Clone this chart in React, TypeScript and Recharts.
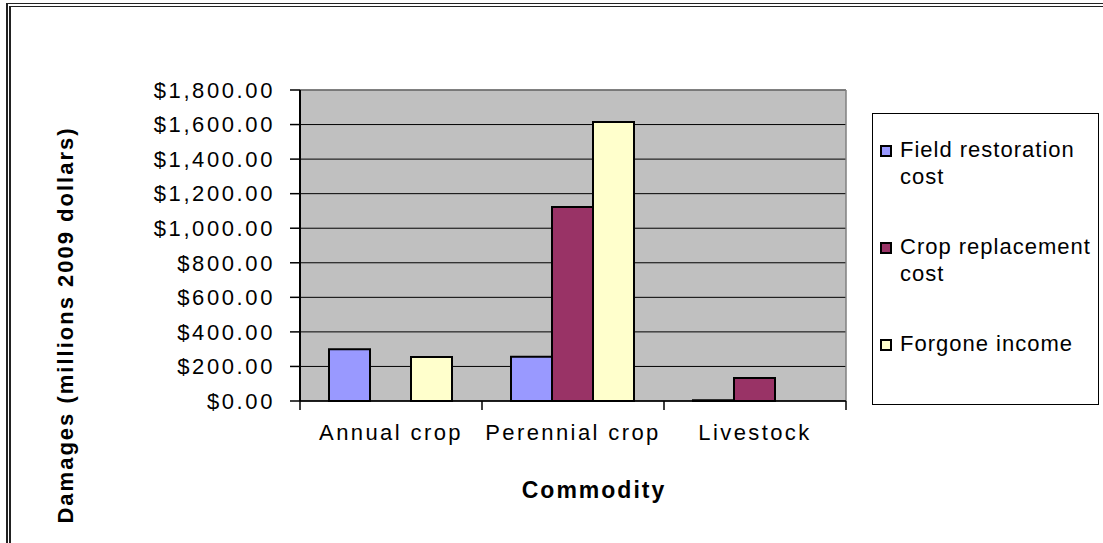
import { BarChart, Bar, XAxis, YAxis, CartesianGrid, Legend, Label } from 'recharts';

const categories = ['Annual crop', 'Perennial crop', 'Livestock'];
const seriesNames = ['Field restoration cost', 'Crop replacement cost', 'Forgone income'];
const fieldRestoration = [300, 256, 5];
const cropReplacement = [null, 1123, 133];
const forgoneIncome = [254, 1615, null];
const yTicks = [0, 200, 400, 600, 800, 1000, 1200, 1400, 1600, 1800];

const W = 1103;
const H = 543;
const margin = { top: 90, right: 257, bottom: 0, left: 0 };
const Y_AXIS_W = 300;
const X_AXIS_H = 142;
const FONT = '"Liberation Sans", Arial, sans-serif';

const plotW = W - margin.left - margin.right - Y_AXIS_W;
const plotBottom = H - margin.bottom - X_AXIS_H;
const band = plotW / categories.length;

const data = categories.map((c, i) => ({
    category: c,
    field: fieldRestoration[i],
    crop: cropReplacement[i],
    income: forgoneIncome[i],
}));

const money = (v: number) =>
    '$' + v.toLocaleString('en-US', { minimumFractionDigits: 2, maximumFractionDigits: 2 });

// excel style: ticks sit between categories
const CategoryTick = ({ x, payload, index }: any) => {
    const half = band / 2;
    return (
        <g>
            <line x1={x - half} x2={x - half} y1={plotBottom} y2={plotBottom + 9} stroke="#000" strokeWidth={1.5} />
            {index === categories.length - 1 && (
                <line x1={x + half} x2={x + half} y1={plotBottom} y2={plotBottom + 9} stroke="#000" strokeWidth={1.5} />
            )}
            <text
                x={x}
                y={plotBottom + 39}
                textAnchor="middle"
                fill="#000"
                style={{ fontFamily: FONT, fontSize: 22, letterSpacing: 2.4 }}
            >
                {payload.value}
            </text>
        </g>
    );
};

const LegendBox = ({ payload }: any) => {
    const items = [...(payload || [])].sort(
        (a: any, b: any) => seriesNames.indexOf(a.value) - seriesNames.indexOf(b.value)
    );
    return (
        <div
            style={{
                border: '1px solid #000',
                background: '#fff',
                boxSizing: 'border-box',
                width: 227,
                height: 292,
                padding: '22px 0 0 7px',
                fontFamily: FONT,
                fontSize: 22,
                lineHeight: '27px',
                letterSpacing: 1,
                color: '#000',
                textAlign: 'left',
            }}
        >
            {items.map((p: any) => (
                <div key={p.value} style={{ display: 'flex', alignItems: 'flex-start', height: 97 }}>
                    <span
                        style={{
                            display: 'inline-block',
                            width: 12,
                            height: 12,
                            marginTop: 9,
                            marginRight: 8,
                            boxSizing: 'border-box',
                            border: '2px solid #000',
                            background: p.color,
                            flex: 'none',
                        }}
                    />
                    <span style={{ width: 196 }}>{p.value}</span>
                </div>
            ))}
        </div>
    );
};

export default function App() {
    return (
        <div style={{ position: 'fixed', left: 0, top: 0, width: W, height: H, background: '#fff', overflow: 'hidden' }}>
            <div
                style={{
                    position: 'absolute',
                    left: 6,
                    top: 3,
                    width: 1300,
                    height: 800,
                    borderLeft: '5px double #222',
                    borderTop: '4px double #222',
                }}
            />
            <div style={{ position: 'absolute', left: 0, top: 0 }}>
                <BarChart width={W} height={H} data={data} margin={margin} barCategoryGap={29} barGap={0}>
                    <CartesianGrid fill="#c0c0c0" stroke="#000" vertical={false} />
                    <CartesianGrid
                        stroke="#808080"
                        strokeWidth={1.5}
                        horizontalCoordinatesGenerator={({ offset }: any) => [offset.top]}
                        verticalCoordinatesGenerator={({ offset }: any) => [offset.left + offset.width]}
                    />
                    <XAxis
                        dataKey="category"
                        height={X_AXIS_H}
                        tickLine={false}
                        axisLine={{ stroke: '#000', strokeWidth: 1.5 }}
                        tick={<CategoryTick />}
                        interval={0}
                    >
                        <Label
                            content={({ viewBox }: any) => (
                                <text
                                    x={viewBox.x + viewBox.width / 2 + 21}
                                    y={plotBottom + 97}
                                    textAnchor="middle"
                                    fill="#000"
                                    style={{ fontFamily: FONT, fontSize: 23, fontWeight: 700, letterSpacing: 2 }}
                                >
                                    Commodity
                                </text>
                            )}
                        />
                    </XAxis>
                    <YAxis
                        width={Y_AXIS_W}
                        domain={[0, 1800]}
                        ticks={yTicks}
                        tickFormatter={money}
                        tickSize={10}
                        tickMargin={15}
                        interval={0}
                        tickLine={{ stroke: '#000', strokeWidth: 1.5 }}
                        axisLine={{ stroke: '#000', strokeWidth: 2 }}
                        tick={{ fill: '#000', fontSize: 22, fontFamily: FONT, letterSpacing: 2.6 }}
                    >
                        <Label
                            content={() => {
                                const cx = 73;
                                const cy = 325;
                                return (
                                    <text
                                        x={cx}
                                        y={cy}
                                        transform={`rotate(-90 ${cx} ${cy})`}
                                        textAnchor="middle"
                                        fill="#000"
                                        style={{ fontFamily: FONT, fontSize: 22, fontWeight: 700, letterSpacing: 2 }}
                                    >
                                        Damages (millions 2009 dollars)
                                    </text>
                                );
                            }}
                        />
                    </YAxis>
                    <Legend
                        layout="vertical"
                        align="center"
                        verticalAlign="middle"
                        content={<LegendBox />}
                        wrapperStyle={{ left: 872, top: 113, width: 227, height: 292 }}
                    />
                    <Bar dataKey="field" name={seriesNames[0]} fill="#9999ff" stroke="#000" strokeWidth={2} isAnimationActive={false} />
                    <Bar dataKey="crop" name={seriesNames[1]} fill="#993366" stroke="#000" strokeWidth={2} isAnimationActive={false} />
                    <Bar dataKey="income" name={seriesNames[2]} fill="#ffffcc" stroke="#000" strokeWidth={2} isAnimationActive={false} />
                </BarChart>
            </div>
        </div>
    );
}
